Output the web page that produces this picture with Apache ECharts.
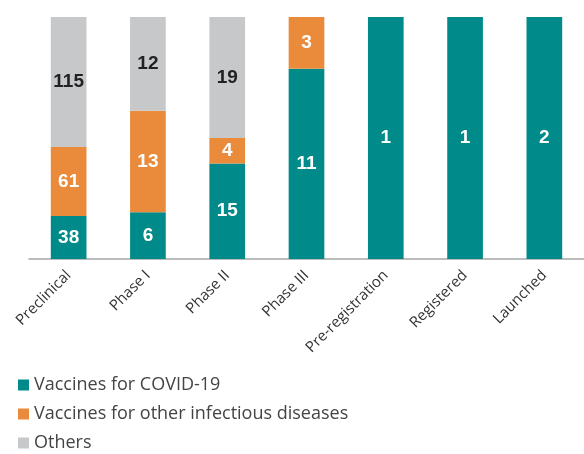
<!DOCTYPE html>
<html><head><meta charset="utf-8">
<script src="https://cdn.jsdelivr.net/npm/echarts@6/dist/echarts.min.js"></script>
<style>html,body{margin:0;padding:0;background:#fff}#c{width:584px;height:454px}</style>
</head><body><div id="c"></div>
<script>
const categories = ['Preclinical','Phase I','Phase II','Phase III','Pre-registration','Registered','Launched'];
const covid = [38, 6, 15, 11, 1, 1, 2];
const otherInfectious = [61, 13, 4, 3, 0, 0, 0];
const others = [115, 12, 19, 0, 0, 0, 0];
const seriesNames = ['Vaccines for COVID-19','Vaccines for other infectious diseases','Others'];
const colors = ['#008B8A','#E98B3A','#C7C8CA'];

const totals = categories.map((_, i) => covid[i] + otherInfectious[i] + others[i]);
const raw = [covid, otherInfectious, others];
const labelColors = ['#ffffff','#ffffff','#222222'];

const chart = echarts.init(document.getElementById('c'));
chart.setOption({
  animation: false,
  grid: {left: 29, top: 17, width: 565, height: 242, containLabel: false},
  legend: {
    orient: 'vertical', left: 18, top: 375, bottom: 0, padding: 0,
    itemWidth: 11, itemHeight: 11, itemGap: 9,
    icon: 'rect',
    textStyle: {fontFamily: 'Open Sans', fontSize: 18, color: '#444', lineHeight: 20},
    data: seriesNames
  },
  xAxis: {
    type: 'category', data: categories,
    axisLine: {lineStyle: {color: '#A6A6A6', width: 1.5}},
    axisTick: {show: false},
    axisLabel: {rotate: 45, interval: 0, fontFamily: 'Open Sans', fontSize: 15, color: '#333', margin: 14}
  },
  yAxis: {type: 'value', min: 0, max: 100, show: false, splitLine: {show: false}},
  series: raw.map((arr, s) => ({
    name: seriesNames[s], type: 'bar', stack: 'all', barWidth: '45%',
    itemStyle: {color: colors[s]},
    data: arr.map((v, i) => ({value: v / totals[i] * 100, raw: v})),
    label: {
      show: true, position: 'inside', color: labelColors[s],
      fontFamily: 'Liberation Sans', fontWeight: 'bold', fontSize: 19,
      formatter: p => p.data.raw ? String(p.data.raw) : ''
    }
  }))
});
</script></body></html>
